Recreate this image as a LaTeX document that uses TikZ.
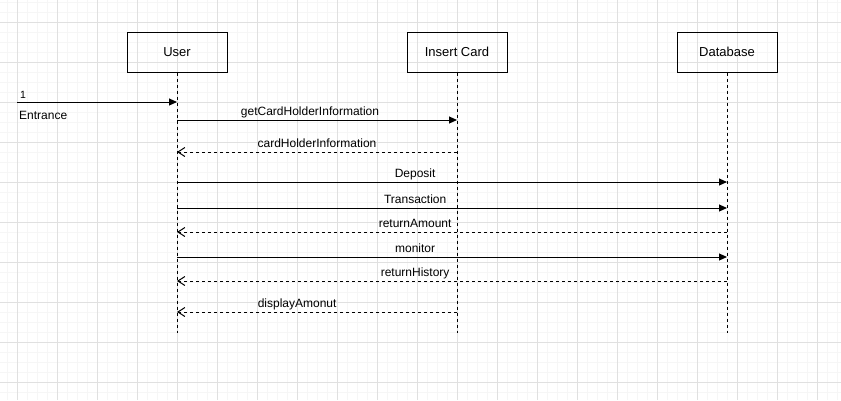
\documentclass[tikz,border=0pt]{standalone}
\usepackage{fontspec}
\setmainfont{Liberation Sans}
\usetikzlibrary{arrows.meta}
\definecolor{gridminor}{HTML}{F6F6F6}
\definecolor{gridmajor}{HTML}{E0E0E0}
\tikzset{
  actor/.style={draw, line width=1pt, minimum width=100pt, minimum height=40pt, inner sep=0pt, font=\fontsize{13}{15}\selectfont},
  lifeline/.style={line width=1pt, dash pattern=on 3pt off 3pt},
  call/.style={line width=1pt, -{Triangle[length=8pt,width=7pt]}},
  reply/.style={line width=1pt, dash pattern=on 3pt off 3pt, -{Straight Barb[length=7pt,width=9pt]}},
  lbl/.style={font=\fontsize{12}{14}\selectfont, anchor=base, yshift=5pt, inner sep=0pt},
}
\begin{document}
\begin{tikzpicture}[x=1pt, y=-1pt]
  \useasboundingbox (0,0) rectangle (841,400);
  % grid
  \foreach \x in {7,17,...,837} \draw[gridminor, line width=1pt] (\x,0) -- (\x,400);
  \foreach \y in {2,12,...,392} \draw[gridminor, line width=1pt] (0,\y) -- (841,\y);
  \foreach \x in {17,57,...,817} \draw[gridmajor, line width=1pt] (\x,0) -- (\x,400);
  \foreach \y in {22,62,...,382} \draw[gridmajor, line width=1pt] (0,\y) -- (841,\y);

  \node[actor] (user) at (177,52) {User};
  \node[actor] (card) at (457,52) {Insert Card};
  \node[actor] (db) at (727,52) {Database};

  \draw[lifeline] (user.south) -- (user |- 0,333);
  \draw[lifeline] (card.south) -- (card |- 0,333);
  \draw[lifeline] (db.south) -- (db |- 0,333);

  \coordinate (entry) at (17,102);
  \draw[call] (entry) -- (user |- entry);
  \node[font=\fontsize{10.5}{12}\selectfont, anchor=base west, inner sep=0pt] (one) at (20,98) {1};
  \node[font=\fontsize{12}{14}\selectfont, anchor=base west, inner sep=0pt] (entrance) at (19,119) {Entrance};

  \draw[call] (user |- 0,120) -- (card |- 0,120) node[lbl, pos=0.475] {getCardHolderInformation};
  \draw[reply] (card |- 0,152) -- (user |- 0,152) node[lbl, pos=0.5] {cardHolderInformation};
  \draw[call] (user |- 0,182) -- (db |- 0,182) node[lbl, pos=0.433] {Deposit};
  \draw[call] (user |- 0,208) -- (db |- 0,208) node[lbl, pos=0.433] {Transaction};
  \draw[reply] (db |- 0,232) -- (user |- 0,232) node[lbl, pos=0.567] {returnAmount};
  \draw[call] (user |- 0,257) -- (db |- 0,257) node[lbl, pos=0.433] {monitor};
  \draw[reply] (db |- 0,281) -- (user |- 0,281) node[lbl, pos=0.567] {returnHistory};
  \draw[reply] (card |- 0,312) -- (user |- 0,312) node[lbl, pos=0.571] {displayAmonut};
\end{tikzpicture}
\end{document}
